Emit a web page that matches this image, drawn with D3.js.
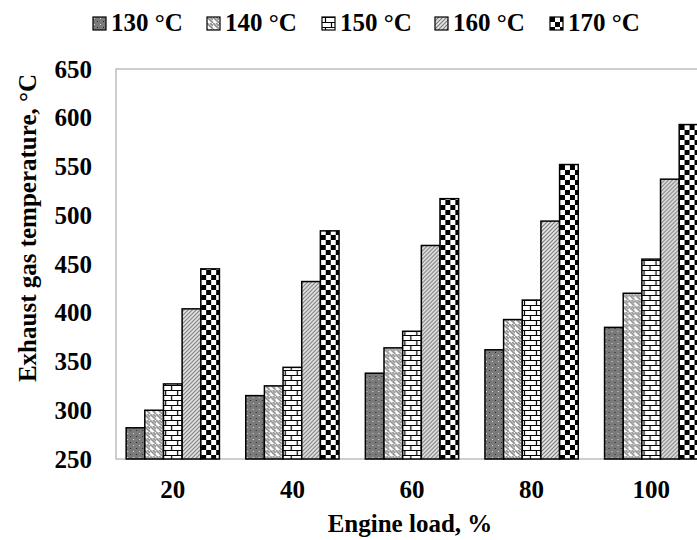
<!DOCTYPE html>
<html>
<head>
<meta charset="utf-8">
<script src="https://cdn.jsdelivr.net/npm/d3@7"></script>
<style>
  body { margin: 0; background: #fff; }
  text { font-family: "Liberation Serif", "Times New Roman", serif; font-weight: bold; fill: #000; }
</style>
</head>
<body>
<svg id="canvas" width="697" height="540"></svg>
<script>
// engine load categories
const loads = ["20", "40", "60", "80", "100"];
const seriesNames = ["130 °C", "140 °C", "150 °C", "160 °C", "170 °C"];

// exhaust gas temperature per series, in order of loads
const t130 = [282, 315, 338, 362, 385];
const t140 = [300, 325, 364, 393, 420];
const t150 = [327, 344, 381, 413, 455];
const t160 = [404, 432, 469, 494, 537];
const t170 = [445, 484, 517, 552, 593];

const yTicks = [250, 300, 350, 400, 450, 500, 550, 600, 650];

const allSeries = [t130, t140, t150, t160, t170];
const patternIds = ["p130", "p140", "p150", "p160", "p170"];

const svg = d3.select("#canvas");
const defs = svg.append("defs");

// pattern fills, roughly like the Excel ones
const p1 = defs.append("pattern").attr("id", "p130").attr("patternUnits", "userSpaceOnUse")
  .attr("width", 6).attr("height", 6);
p1.append("rect").attr("width", 6).attr("height", 6).attr("fill", "#7a7a7a");
p1.append("rect").attr("x", 1).attr("y", 1).attr("width", 1).attr("height", 1).attr("fill", "#ddd");
p1.append("rect").attr("x", 4).attr("y", 4).attr("width", 1).attr("height", 1).attr("fill", "#222");

const p2 = defs.append("pattern").attr("id", "p140").attr("patternUnits", "userSpaceOnUse")
  .attr("width", 6).attr("height", 6);
p2.append("rect").attr("width", 6).attr("height", 6).attr("fill", "#fff");
p2.append("path").attr("d", "M0,0 L6,6 M-3,3 L0,6 M3,0 L6,3")
  .attr("stroke", "#8c8c8c").attr("stroke-width", 1.6);

const p3 = defs.append("pattern").attr("id", "p150").attr("patternUnits", "userSpaceOnUse")
  .attr("width", 12).attr("height", 10);
p3.append("rect").attr("width", 12).attr("height", 10).attr("fill", "#fff");
p3.append("path").attr("d", "M0,0.5 H12 M0,5.5 H12 M3.5,0.5 V5.5 M9.5,5.5 V10")
  .attr("stroke", "#000").attr("stroke-width", 1.2);

const p4 = defs.append("pattern").attr("id", "p160").attr("patternUnits", "userSpaceOnUse")
  .attr("width", 4).attr("height", 4);
p4.append("rect").attr("width", 4).attr("height", 4).attr("fill", "#e6e6e6");
p4.append("path").attr("d", "M0,4 L4,0 M-1,1 L1,-1 M3,5 L5,3")
  .attr("stroke", "#777").attr("stroke-width", 1.1);

const p5 = defs.append("pattern").attr("id", "p170").attr("patternUnits", "userSpaceOnUse")
  .attr("width", 10).attr("height", 10);
p5.append("rect").attr("width", 10).attr("height", 10).attr("fill", "#fff");
p5.append("rect").attr("x", 0).attr("y", 0).attr("width", 5).attr("height", 5).attr("fill", "#000");
p5.append("rect").attr("x", 5).attr("y", 5).attr("width", 5).attr("height", 5).attr("fill", "#000");

// scales
const x = d3.scaleBand().domain(loads).range([113, 711]).paddingInner(0.22).paddingOuter(0.11);
const xSub = d3.scaleBand().domain(seriesNames).range([0, x.bandwidth()]);
const y = d3.scaleLinear().domain([250, 650]).range([459, 69]);

// plot frame
svg.append("rect")
  .attr("x", 116).attr("y", y(650))
  .attr("width", 700).attr("height", y(250) - y(650))
  .attr("fill", "none").attr("stroke", "#bfbfbf").attr("stroke-width", 1.5);

// bars
const groups = svg.append("g").selectAll("g")
  .data(loads)
  .join("g")
  .attr("transform", (d) => `translate(${x(d)},0)`);

groups.selectAll("rect")
  .data((d, i) => seriesNames.map((s, j) => ({ name: s, value: allSeries[j][i], pid: patternIds[j] })))
  .join("rect")
  .attr("x", (d) => xSub(d.name))
  .attr("y", (d) => y(d.value))
  .attr("width", xSub.bandwidth())
  .attr("height", (d) => y(250) - y(d.value))
  .attr("fill", (d) => `url(#${d.pid})`)
  .attr("stroke", "#000")
  .attr("stroke-width", 1.5);

// y axis
const yAxis = svg.append("g")
  .attr("transform", "translate(100,0)")
  .call(d3.axisLeft(y).tickValues(yTicks).tickSize(0).tickPadding(8));
yAxis.select(".domain").remove();
yAxis.selectAll("text").attr("font-size", 25).style("font-family", null);

// x axis
const xAxis = svg.append("g")
  .attr("transform", `translate(0,${y(250)})`)
  .call(d3.axisBottom(x).tickSize(0).tickPadding(0));
xAxis.select(".domain").remove();
xAxis.selectAll("text").attr("font-size", 25).attr("dy", null).attr("y", 39).style("font-family", null);

// axis titles
svg.append("text")
  .attr("x", 410).attr("y", 532)
  .attr("text-anchor", "middle")
  .attr("font-size", 25)
  .text("Engine load, %");

svg.append("text")
  .attr("transform", "translate(36,228) rotate(-90)")
  .attr("text-anchor", "middle")
  .attr("font-size", 25)
  .text("Exhaust gas temperature, °C");

// legend
const legendX = [93, 207, 322, 435, 550];
const legend = svg.append("g").selectAll("g")
  .data(seriesNames)
  .join("g")
  .attr("transform", (d, i) => `translate(${legendX[i]},17)`);

legend.append("rect")
  .attr("width", 13).attr("height", 13)
  .attr("fill", (d, i) => `url(#${patternIds[i]})`)
  .attr("stroke", "#000").attr("stroke-width", 1.2);

legend.append("text")
  .attr("x", 18).attr("y", 14)
  .attr("font-size", 25)
  .text((d) => d);
</script>
</body>
</html>
